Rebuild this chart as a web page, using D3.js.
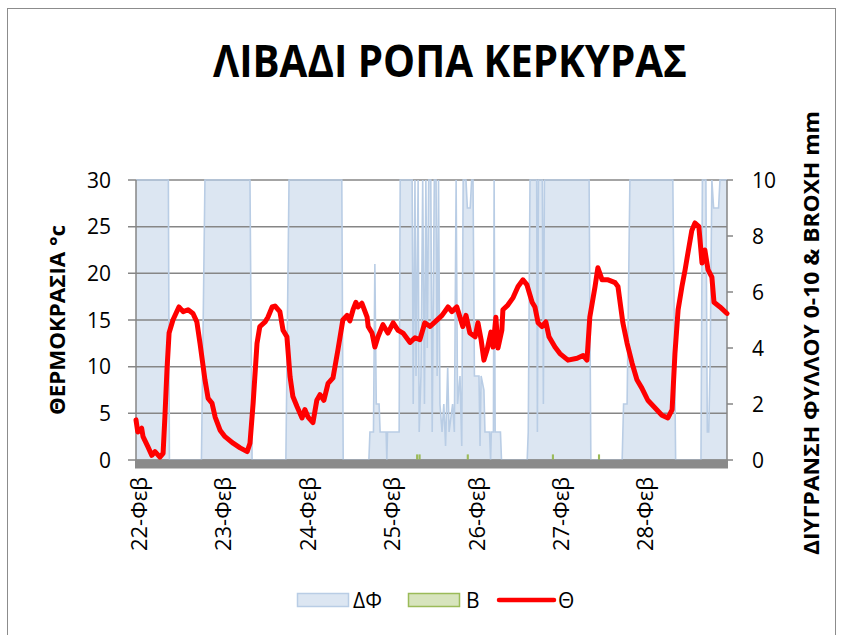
<!DOCTYPE html>
<html>
<head>
<meta charset="utf-8">
<script src="https://cdn.jsdelivr.net/npm/d3@7"></script>
<style>
  html, body { margin: 0; padding: 0; background: #fff; }
  svg { display: block; }
  text { font-family: "Open Sans", "Liberation Sans", sans-serif; fill: #000; }
</style>
</head>
<body>
<svg id="chart" width="841" height="635"></svg>
<script>
// ---------- DATA ----------
const title = "ΛΙΒΑΔΙ ΡΟΠΑ ΚΕΡΚΥΡΑΣ";
const leftTitle = "ΘΕΡΜΟΚΡΑΣΙΑ °c";
const rightTitle = "ΔΙΥΓΡΑΝΣΗ ΦΥΛΛΟΥ 0-10 & BROXH mm";
const dayLabels = ["22-Φεβ", "23-Φεβ", "24-Φεβ", "25-Φεβ", "26-Φεβ", "27-Φεβ", "28-Φεβ"];
const leftTicks = [0, 5, 10, 15, 20, 25, 30];
const rightTicks = [0, 2, 4, 6, 8, 10];
const legendNames = ["ΔΦ", "B", "Θ"];

// Θ: temperature (°C); time in hours since 22-Φεβ 00:00
const tempHours = [0, 0.5, 1.6, 2.0, 3.4, 4.5, 5.4, 6.8, 7.7, 8.2, 8.8, 9.4, 10.5, 12.2, 13.4, 14.8, 16.2, 17.3, 18.2, 19.6, 20.5, 21.6, 22.5, 23.9, 25.3, 27.6, 29.6, 31.6, 32.4, 33.3, 34.4, 35.2, 36.7, 37.5, 38.7, 39.5, 40.9, 41.8, 42.9, 43.8, 44.6, 45.8, 47.2, 48.0, 48.9, 50.3, 51.4, 52.3, 53.4, 54.6, 56.0, 57.4, 58.8, 60.0, 60.8, 61.7, 62.5, 63.1, 64.2, 65.7, 66.0, 67.1, 67.9, 68.8, 70.2, 71.6, 73.1, 74.5, 75.9, 77.9, 79.3, 80.7, 82.1, 83.6, 85.0, 87.0, 88.7, 89.8, 91.2, 92.1, 92.9, 93.8, 94.9, 96.4, 97.2, 98.1, 98.9, 99.8, 100.9, 101.5, 102.3, 102.9, 104.0, 104.3, 105.7, 107.2, 108.6, 110.0, 111.1, 112.6, 113.4, 114.3, 115.4, 116.5, 117.4, 119.1, 120.5, 122.8, 125.4, 127.1, 128.2, 129.0, 130.5, 131.3, 132.5, 134.2, 136.2, 137.0, 138.4, 139.6, 141.0, 142.4, 143.8, 145.5, 147.5, 149.5, 151.2, 152.4, 153.2, 154.1, 155.2, 156.1, 156.9, 158.0, 158.9, 160.0, 160.9, 161.7, 162.6, 163.7, 164.3, 166.0, 168.0];
const tempValues = [4.3, 3.0, 3.4, 2.5, 1.4, 0.5, 0.9, 0.3, 0.7, 4.5, 9.6, 13.6, 15.0, 16.4, 15.9, 16.1, 15.7, 14.8, 12.5, 8.6, 6.6, 6.1, 4.6, 3.2, 2.5, 1.8, 1.3, 0.9, 1.8, 6.1, 12.5, 14.3, 14.8, 15.3, 16.4, 16.5, 15.9, 13.9, 13.2, 8.9, 6.8, 5.7, 4.5, 5.4, 4.6, 4.0, 6.4, 7.0, 6.4, 8.2, 8.8, 11.8, 15.0, 15.5, 14.9, 16.1, 16.9, 16.4, 16.8, 15.3, 14.3, 13.6, 12.1, 13.2, 14.5, 13.6, 14.7, 13.9, 13.6, 12.6, 13.1, 12.9, 14.7, 14.3, 14.8, 15.5, 16.4, 15.9, 16.4, 15.3, 14.3, 15.5, 13.6, 13.2, 14.7, 12.9, 10.7, 11.8, 13.7, 12.1, 15.3, 12.0, 13.9, 16.1, 16.6, 17.4, 18.6, 19.3, 18.8, 16.9, 16.4, 14.7, 14.3, 14.8, 13.2, 12.1, 11.4, 10.7, 10.9, 11.2, 10.7, 15.3, 18.6, 20.6, 19.3, 19.3, 19.0, 18.6, 14.7, 12.5, 10.4, 8.6, 7.7, 6.4, 5.6, 4.8, 4.5, 5.4, 11.4, 16.1, 18.6, 20.4, 22.2, 24.6, 25.4, 25.0, 21.1, 22.5, 20.4, 19.6, 16.9, 16.4, 15.7];

// ΔΦ: leaf wetness (0-10)
const wetHours = [0, 9.2, 9.5, 18.6, 19.6, 32.4, 33.0, 42.6, 43.5, 58.5, 58.9, 66.2, 66.5, 67.5, 67.9, 68.3, 69.1, 69.4, 71.1, 71.3, 71.5, 74.8, 75.1, 78.5, 78.8, 79.3, 79.6, 80.2, 80.5, 81.0, 81.5, 82.0, 82.4, 82.8, 83.2, 83.8, 84.2, 84.8, 85.3, 85.6, 86.0, 86.4, 87.0, 87.5, 88.0, 88.6, 89.0, 90.0, 90.5, 91.0, 91.4, 92.1, 92.6, 93.0, 93.8, 94.2, 95.0, 95.4, 95.8, 96.2, 97.5, 97.8, 98.1, 98.9, 99.2, 100.5, 100.8, 101.0, 101.6, 101.8, 102.1, 103.6, 103.9, 111.2, 111.5, 112.0, 113.9, 114.1, 114.4, 115.5, 115.8, 116.1, 128.8, 129.3, 138.2, 138.6, 139.6, 140.4, 152.6, 153.4, 160.6, 161.0, 162.0, 162.4, 162.8, 163.2, 163.7, 164.2, 165.6, 166.0, 168.0];
const wetValues = [10, 10, 0, 0, 10, 10, 0, 0, 10, 10, 0, 0, 1, 1, 7, 2, 2, 1, 1, 0, 1, 1, 10, 10, 2, 10, 3, 10, 1, 3, 10, 2, 10, 4, 10, 10, 1, 10, 10, 3, 10, 2, 1, 2, 0.5, 3.3, 1, 2, 1, 10, 2, 3, 0.5, 10, 10, 9, 9, 10, 10, 3, 3, 0.5, 3, 2.5, 1, 1, 0, 1, 1, 10, 1, 1, 0, 0, 1, 10, 10, 1, 10, 10, 2, 10, 10, 0, 0, 2, 2, 10, 10, 0, 0, 10, 10, 1, 1, 3.4, 10, 9, 9, 10, 10];

// B: rain (mm)
const rainHours = [79.9, 80.6, 94.3, 118.5, 131.6];
const rainValues = [0.2, 0.2, 0.2, 0.2, 0.2];

// ---------- CHART ----------
const svg = d3.select("#chart");
const plot = { left: 136, right: 727, top: 180, bottom: 460 };

const x = d3.scaleLinear().domain([0, 168]).range([plot.left, plot.right]);
const yL = d3.scaleLinear().domain([0, 30]).range([plot.bottom, plot.top]);
const yR = d3.scaleLinear().domain([0, 10]).range([plot.bottom, plot.top]);

const gridColor = "#868686";

// outer border
svg.append("rect").attr("x", 7.5).attr("y", 8.5).attr("width", 828).attr("height", 640)
  .attr("fill", "#fff").attr("stroke", "#8c8c8c").attr("stroke-width", 1);

// title
svg.append("text").attr("x", 450).attr("y", 77).attr("text-anchor", "middle")
  .attr("font-size", 44).attr("font-weight", "bold")
  .attr("textLength", 474).attr("lengthAdjust", "spacingAndGlyphs")
  .text(title);

// wetness area
const wet = wetHours.map((h, i) => ({ h, v: wetValues[i] }));
svg.append("path").datum(wet)
  .attr("fill", "#dce6f2")
  .attr("d", d3.area().x(d => x(d.h)).y0(yR(0)).y1(d => yR(d.v)));

// gridlines
svg.append("g").selectAll("line").data(leftTicks).join("line")
  .attr("x1", plot.left - 8).attr("x2", plot.right)
  .attr("y1", d => yL(d)).attr("y2", d => yL(d))
  .attr("stroke", gridColor).attr("stroke-width", 1.5);

// wetness outline
svg.append("path").datum(wet)
  .attr("fill", "none").attr("stroke", "#b9cde5").attr("stroke-width", 1.6)
  .attr("d", d3.line().x(d => x(d.h)).y(d => yR(d.v)));

// axes lines
svg.append("line").attr("x1", plot.left).attr("x2", plot.left).attr("y1", plot.top).attr("y2", plot.bottom + 8)
  .attr("stroke", gridColor).attr("stroke-width", 1.5);
svg.append("line").attr("x1", plot.right).attr("x2", plot.right).attr("y1", plot.top).attr("y2", plot.bottom + 8)
  .attr("stroke", gridColor).attr("stroke-width", 1.5);
svg.append("g").selectAll("line").data(rightTicks).join("line")
  .attr("x1", plot.right).attr("x2", plot.right + 6)
  .attr("y1", d => yR(d)).attr("y2", d => yR(d))
  .attr("stroke", gridColor).attr("stroke-width", 1.5);

// rain bars
svg.append("g").selectAll("rect").data(rainHours.map((h, i) => ({ h, v: rainValues[i] }))).join("rect")
  .attr("x", d => x(d.h) - 1).attr("width", d => x(d.h + 0.6) - x(d.h))
  .attr("y", d => yR(d.v)).attr("height", d => yR(0) - yR(d.v))
  .attr("fill", "#9bbb59");

// floor band (category axis)
svg.append("rect").attr("x", plot.left - 1).attr("y", plot.bottom - 0.5)
  .attr("width", plot.right - plot.left + 2).attr("height", 9).attr("fill", "#8a8a8a");

// temperature line
const temp = tempHours.map((h, i) => ({ h, v: tempValues[i] }));
svg.append("path").datum(temp)
  .attr("fill", "none").attr("stroke", "#ff0000").attr("stroke-width", 5)
  .attr("stroke-linejoin", "round").attr("stroke-linecap", "round")
  .attr("d", d3.line().x(d => x(d.h)).y(d => yL(d.v)));

// left tick labels
svg.append("g").selectAll("text").data(leftTicks).join("text")
  .attr("x", 111).attr("y", d => yL(d)).attr("dy", "0.36em")
  .attr("text-anchor", "end").attr("font-size", 21).text(d => d);

// right tick labels
svg.append("g").selectAll("text").data(rightTicks).join("text")
  .attr("x", 752).attr("y", d => yR(d)).attr("dy", "0.36em")
  .attr("text-anchor", "start").attr("font-size", 21).text(d => d);

// x labels
svg.append("g").selectAll("text").data(dayLabels).join("text")
  .attr("transform", (d, i) => `translate(${x(i * 24) + 3},477) rotate(-90)`)
  .attr("dy", "0.36em").attr("text-anchor", "end").attr("font-size", 22).text(d => d);

// axis titles
svg.append("text").attr("transform", "translate(57,320) rotate(-90)")
  .attr("dy", "0.36em").attr("text-anchor", "middle").attr("font-size", 21).attr("font-weight", "bold")
  .attr("textLength", 190).attr("lengthAdjust", "spacingAndGlyphs")
  .text(leftTitle);
svg.append("text").attr("transform", "translate(811,333) rotate(-90)")
  .attr("dy", "0.36em").attr("text-anchor", "middle").attr("font-size", 21).attr("font-weight", "bold")
  .attr("textLength", 444).attr("lengthAdjust", "spacingAndGlyphs")
  .text(rightTitle);

// legend
const lg = svg.append("g");
lg.append("rect").attr("x", 297.5).attr("y", 593.5).attr("width", 51).attr("height", 13)
  .attr("fill", "#dce6f2").attr("stroke", "#b9cde5").attr("stroke-width", 1.5);
lg.append("text").attr("x", 353).attr("y", 600).attr("dy", "0.36em").attr("font-size", 21).text(legendNames[0]);
lg.append("rect").attr("x", 408.5).attr("y", 593.5).attr("width", 51).attr("height", 13)
  .attr("fill", "#d7e4bd").attr("stroke", "#9bbb59").attr("stroke-width", 1.5);
lg.append("text").attr("x", 466).attr("y", 600).attr("dy", "0.36em").attr("font-size", 21).text(legendNames[1]);
lg.append("line").attr("x1", 499).attr("x2", 554).attr("y1", 600).attr("y2", 600)
  .attr("stroke", "#ff0000").attr("stroke-width", 4.5).attr("stroke-linecap", "round");
lg.append("text").attr("x", 558).attr("y", 600).attr("dy", "0.36em").attr("font-size", 21).text(legendNames[2]);
</script>
</body>
</html>
